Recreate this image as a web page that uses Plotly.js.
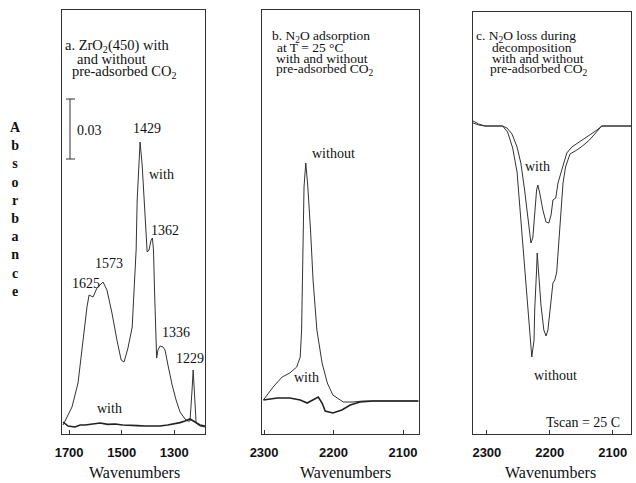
<!DOCTYPE html>
<html>
<head>
<meta charset="utf-8">
<script src="https://cdn.plot.ly/plotly-3.0.1.min.js"></script>
<style>html,body{margin:0;padding:0;background:#fff;}#chart{width:636px;height:483px;}</style>
</head>
<body>
<div id="chart"></div>
<script>
// ---- Panel a: ZrO2(450), wavenumbers vs absorbance ----
const aBigWn  = [1723,1689,1666,1647,1632,1624,1609,1594,1571,1556,1537,1518,1502,1491,1476,1460,1453,1445,1441,1434,1430,1422,1415,1409,1403,1396,1388,1383,1379,1375,1371,1367,1362,1354,1343,1335,1324,1308,1293,1278,1259,1248,1240,1236,1232,1228,1225,1221,1217,1213,1202,1183];
const aBigAbs = [0,0.009,0.021,0.0425,0.059,0.065,0.064,0.0685,0.0715,0.0675,0.056,0.0425,0.0325,0.0315,0.0385,0.049,0.0675,0.0875,0.1125,0.1325,0.1415,0.13,0.1125,0.0975,0.0865,0.0875,0.0925,0.0935,0.0875,0.0675,0.045,0.0335,0.0375,0.0395,0.039,0.0375,0.03,0.02,0.0125,0.0065,0.003,0.002,0.002,0.008,0.018,0.0275,0.019,0.008,0.0015,0.0005,-0.0005,-0.001];
const aFlatWn  = [1723,1704,1677,1658,1639,1610,1582,1553,1525,1496,1468,1440,1411,1382,1354,1325,1297,1278,1259,1240,1221,1202,1183];
const aFlatAbs = [0.0015,-0.0005,-0.001,0,0,0.0005,0.001,0.0003,0.0005,0,0,-0.0003,-0.0005,-0.0005,-0.0005,0,0.0005,0.0012,0.002,0.003,0.0015,0,-0.0005];

// ---- Panel b: N2O adsorption at 25 C ----
const bWithoutWn  = [2301,2287,2274,2263,2253,2248,2246,2245,2244,2242.5,2240,2237,2233,2229.5,2224,2216.5,2209,2201,2186,2172,2158,2123,2078];
const bWithoutAbs = [0,0.0065,0.0115,0.0135,0.0165,0.0215,0.035,0.06,0.085,0.1065,0.1185,0.1065,0.084,0.06,0.035,0.0185,0.0085,0.0025,-0.001,-0.001,-0.0005,-0.0005,-0.0005];
const bWithWn  = [2301,2281,2263,2248,2238,2229.5,2222,2216.5,2212,2201,2188,2176,2162,2143,2078];
const bWithAbs = [0,0.001,0.001,0,-0.0015,0,0.0015,-0.0015,-0.0055,-0.0065,-0.005,-0.0025,-0.001,-0.0005,-0.0005];

// ---- Panel c: N2O loss during decomposition ----
const cWithoutWn  = [2322,2313,2303,2275,2267,2259,2252,2248,2244,2241,2236.5,2232,2228.6,2225,2224,2221,2220,2217.5,2214,2209.5,2206,2203,2198,2195,2192,2189,2186,2182.5,2179,2175,2168,2157,2148,2137,2125,2117.5,2071];
const cWithoutAbs = [0.0025,0.001,0,0,-0.003,-0.011,-0.023,-0.0395,-0.053,-0.068,-0.082,-0.102,-0.1155,-0.107,-0.092,-0.072,-0.0635,-0.0745,-0.0895,-0.102,-0.105,-0.102,-0.087,-0.0785,-0.077,-0.073,-0.0595,-0.0435,-0.0285,-0.0205,-0.014,-0.012,-0.01,-0.007,-0.003,0,0];
const cWithWn  = [2322,2313,2303,2275,2268,2260,2252,2246,2240,2235,2230,2227,2224,2221,2219,2216,2211,2206,2201.6,2198,2195,2190.5,2187,2181,2173,2165,2148,2137,2125,2117.5,2071];
const cWithAbs = [0.0015,0.0005,0,0,-0.001,-0.004,-0.0105,-0.0185,-0.032,-0.0445,-0.0585,-0.056,-0.0445,-0.032,-0.0295,-0.0335,-0.042,-0.048,-0.0485,-0.0445,-0.037,-0.036,-0.0285,-0.022,-0.0135,-0.0105,-0.007,-0.0045,-0.002,0,0];

// tick labels
const ticksA = [1700,1500,1300];
const ticksBC = [2300,2200,2100];

const W = 636, H = 483;
const px = x => x / W;
const py = y => 1 - y / H;

const lineThin = {color:'#333', width:1};
const lineThick = {color:'#222', width:1.6};

const traces = [
  {x:aBigWn, y:aBigAbs, xaxis:'x', yaxis:'y', mode:'lines', line:lineThin, hoverinfo:'skip'},
  {x:aFlatWn, y:aFlatAbs, xaxis:'x', yaxis:'y', mode:'lines', line:lineThick, hoverinfo:'skip'},
  {x:bWithoutWn, y:bWithoutAbs, xaxis:'x2', yaxis:'y2', mode:'lines', line:lineThin, hoverinfo:'skip'},
  {x:bWithWn, y:bWithAbs, xaxis:'x2', yaxis:'y2', mode:'lines', line:lineThick, hoverinfo:'skip'},
  {x:cWithoutWn, y:cWithoutAbs, xaxis:'x3', yaxis:'y3', mode:'lines', line:lineThin, hoverinfo:'skip'},
  {x:cWithWn, y:cWithAbs, xaxis:'x3', yaxis:'y3', mode:'lines', line:lineThin, hoverinfo:'skip'}
];

const tickFont = {family:'Liberation Sans, Arial, sans-serif', size:13, color:'#111', weight:'bold'};
function xax(domain, range, tv){
  return {domain:domain, range:range, tickvals:tv, ticktext:tv.map(String), ticks:'inside', ticklen:4,
    tickcolor:'#333', showline:true, mirror:true, linecolor:'#333', linewidth:1, showgrid:false, zeroline:false,
    tickfont:tickFont, ticklabelstandoff:6, fixedrange:true};
}
function yax(domain, range, anchor){
  return {domain:domain, range:range, anchor:anchor, showticklabels:false, ticks:'', showline:true, mirror:true,
    linecolor:'#333', linewidth:1, showgrid:false, zeroline:false, fixedrange:true};
}

const serif = 'Liberation Serif, Times New Roman, serif';
function txt(text, x, y, size, anchor){
  return {text:text, xref:'paper', yref:'paper', x:px(x), y:py(y), xanchor:anchor||'center', yanchor:'middle',
    showarrow:false, font:{family:serif, size:size||14, color:'#111'}};
}

const annotations = [
  // panel a header
  txt('a. ZrO<sub>2</sub>(450) with', 63, 46, 14.5, 'left'),
  txt('and without', 75, 59, 14.5, 'left'),
  txt('pre-adsorbed CO<sub>2</sub>', 70, 72, 14.5, 'left'),
  txt('0.03', 89, 130, 14),
  txt('1429', 147, 128, 14),
  txt('with', 147, 174, 14, 'left'),
  txt('1362', 165, 230, 14),
  txt('1573', 109, 263, 14),
  txt('1625', 86, 283, 14),
  txt('1336', 176, 332, 14),
  txt('1229', 190, 358, 14),
  txt('with', 109, 408, 14),
  // panel b
  txt('b. N<sub>2</sub>O adsorption', 270, 37, 13.5, 'left'),
  txt('at T = 25 °C', 275, 48, 13.5, 'left'),
  txt('with and without', 274, 59, 13.5, 'left'),
  txt('pre-adsorbed CO<sub>2</sub>', 274, 70, 13.5, 'left'),
  txt('without', 333, 153, 14),
  txt('with', 306, 377, 14),
  // panel c
  txt('c. N<sub>2</sub>O loss during', 474, 37, 13.5, 'left'),
  txt('decomposition', 490, 48, 13.5, 'left'),
  txt('with and without', 490, 59, 13.5, 'left'),
  txt('pre-adsorbed CO<sub>2</sub>', 488, 70, 13.5, 'left'),
  txt('with', 537, 166, 14),
  txt('without', 555, 375, 14),
  txt('Tscan = 25 C', 622, 422, 14, 'right'),
  // axis titles
  txt('Wavenumbers', 134, 472, 16),
  txt('Wavenumbers', 345, 472, 16),
  txt('Wavenumbers', 550, 472, 16),
  // y title stacked
  {text:'<b>A<br>b<br>s<br>o<br>r<br>b<br>a<br>n<br>c<br>e</b>', xref:'paper', yref:'paper', x:px(15), y:py(210),
   xanchor:'center', yanchor:'middle', showarrow:false, align:'center', font:{family:serif, size:14, color:'#111'}}
];

const sb = {type:'line', xref:'paper', yref:'paper', line:{color:'#333', width:1}};
const shapes = [
  Object.assign({}, sb, {x0:px(70), x1:px(70), y0:py(99), y1:py(159)}),
  Object.assign({}, sb, {x0:px(66), x1:px(75), y0:py(99), y1:py(99)}),
  Object.assign({}, sb, {x0:px(66), x1:px(75), y0:py(159), y1:py(159)})
];

const layout = {
  width:W, height:H, autosize:false, margin:{l:0,r:0,t:0,b:0},
  paper_bgcolor:'#fff', plot_bgcolor:'rgba(0,0,0,0)', showlegend:false,
  xaxis: Object.assign(xax([px(62), px(205)], [1727,1183], ticksA), {anchor:'y'}),
  yaxis: yax([py(434), py(10)], [-0.0045, 0.2075], 'x'),
  xaxis2: Object.assign(xax([px(262), px(419)], [2303,2077], ticksBC), {anchor:'y2'}),
  yaxis2: yax([py(434), py(10)], [-0.017, 0.195], 'x2'),
  xaxis3: Object.assign(xax([px(473), px(631)], [2322,2071], ticksBC), {anchor:'y3'}),
  yaxis3: yax([py(434), py(12)], [-0.154, 0.057], 'x3'),
  annotations:annotations, shapes:shapes
};

Plotly.newPlot('chart', traces, layout, {staticPlot:true, displayModeBar:false});
</script>
</body>
</html>
